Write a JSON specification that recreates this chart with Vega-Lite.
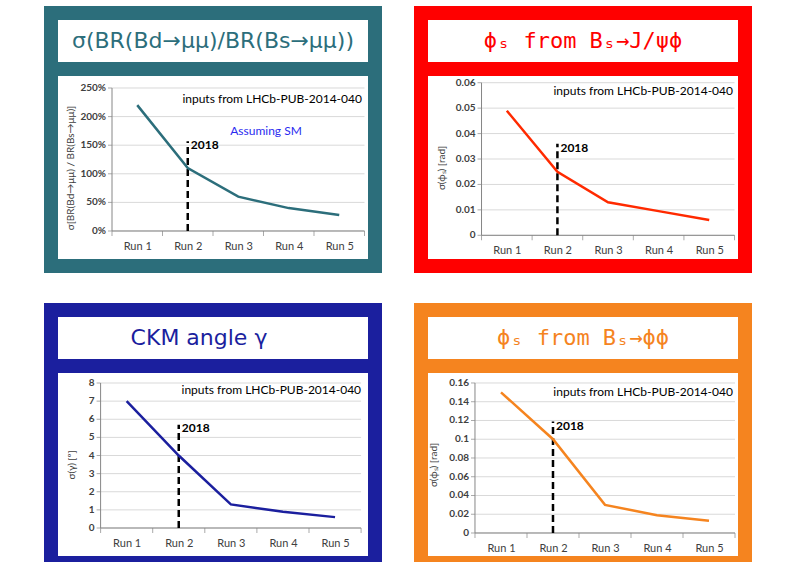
{
 "$schema": "https://vega.github.io/schema/vega-lite/v6.json",
 "background": "white",
 "padding": {"left": 44, "top": 6, "right": 0, "bottom": 0},
 "spacing": 30,
 "config": {
  "axis": {"labelFont": "Lato", "titleFont": "Lato", "labelColor": "#404040", "titleColor": "#404040", "titleFontWeight": "normal", "titleFontSize": 10, "labelOverlap": false},
  "text": {"font": "Lato"}
 },
 "vconcat": [
  {"hconcat": [
   {"spacing": 0, "bounds": "flush", "vconcat": [
    {"width": 324, "height": 56,
     "view": {"fill": "white", "stroke": "#2C6E7B", "strokeWidth": 14},
     "data": {"values": [{"t": "σ(BR(Bd→μμ)/BR(Bs→μμ))"}]},
     "mark": {"type": "text", "font": "DejaVu Sans", "fontSize": 22, "color": "#2C6E7B"},
     "encoding": {"text": {"field": "t"}}},
    {"width": 324, "height": 197,
     "view": {"fill": "white", "stroke": "#2C6E7B", "strokeWidth": 14},
     "layer": [
      {"data": {"values": [{"g": 0}, {"g": 0.5}, {"g": 1}, {"g": 1.5}, {"g": 2}, {"g": 2.5}]},
       "mark": {"type": "rule", "color": "#D9D9D9"},
       "encoding": {
        "y": {"field": "g", "type": "quantitative", "scale": {"domain": [-0.612, 2.832], "nice": false, "zero": false},
              "axis": {"title": "σ[BR(Bd→μμ) / BR(Bs→μμ)]", "offset": -61, "labels": false, "domain": false, "ticks": false, "grid": false, "titlePadding": 37}},
        "x": {"datum": 0.5, "type": "quantitative", "scale": {"domain": [-0.708, 5.708], "nice": false, "zero": false},
              "axis": {"title": null, "offset": -35, "values": [1, 2, 3, 4, 5], "labelExpr": "'Run ' + datum.value", "domain": false, "ticks": false, "grid": false, "labelPadding": 9, "labelFontSize": 11}},
        "x2": {"datum": 5.5}}},
      {"data": {"values": [{"g": 0}, {"g": 0.5}, {"g": 1}, {"g": 1.5}, {"g": 2}, {"g": 2.5}]},
       "mark": {"type": "text", "align": "right", "baseline": "middle", "dx": -6, "fontWeight": "bold", "fontSize": 10, "color": "#404040"},
       "encoding": {"y": {"field": "g", "type": "quantitative"}, "x": {"datum": 0.5, "type": "quantitative"}, "text": {"field": "g", "format": ".0%"}}},
      {"data": {"values": [{"g": 0}, {"g": 0.5}, {"g": 1}, {"g": 1.5}, {"g": 2}, {"g": 2.5}]},
       "mark": {"type": "tick", "orient": "horizontal", "size": 4, "thickness": 1, "color": "#868686", "xOffset": -2},
       "encoding": {"y": {"field": "g", "type": "quantitative"}, "x": {"datum": 0.5, "type": "quantitative"}}},
      {"data": {"values": [{}]}, "mark": {"type": "rule", "color": "#868686"},
       "encoding": {"x": {"datum": 0.5, "type": "quantitative"}, "x2": {"datum": 5.5}, "y": {"datum": 0, "type": "quantitative"}}},
      {"data": {"values": [{}]}, "mark": {"type": "rule", "color": "#868686"},
       "encoding": {"x": {"datum": 0.5, "type": "quantitative"}, "y": {"datum": 0, "type": "quantitative"}, "y2": {"datum": 2.5}}},
      {"data": {"values": [{"t": 0.5}, {"t": 1.5}, {"t": 2.5}, {"t": 3.5}, {"t": 4.5}, {"t": 5.5}]},
       "mark": {"type": "tick", "orient": "vertical", "size": 5, "thickness": 1, "color": "#868686", "yOffset": 2.5},
       "encoding": {"x": {"field": "t", "type": "quantitative"}, "y": {"datum": 0, "type": "quantitative"}}},
      {"data": {"values": [{}]}, "mark": {"type": "rule", "color": "black", "strokeWidth": 2.5, "strokeDash": [7, 4]},
       "encoding": {"x": {"datum": 2, "type": "quantitative"}, "y": {"datum": 0, "type": "quantitative"}, "y2": {"datum": 1.57}}},
      {"data": {"values": [{"run": 1, "v": 2.2}, {"run": 2, "v": 1.1}, {"run": 3, "v": 0.6}, {"run": 4, "v": 0.4}, {"run": 5, "v": 0.28}]},
       "mark": {"type": "line", "color": "#2C6E7B", "strokeWidth": 2.5},
       "encoding": {"x": {"field": "run", "type": "quantitative"}, "y": {"field": "v", "type": "quantitative"}}},
      {"data": {"values": [{}]}, "mark": {"type": "text", "text": "2018", "fontWeight": "bold", "fontSize": 12, "align": "left", "dx": 3, "color": "black"},
       "encoding": {"x": {"datum": 2, "type": "quantitative"}, "y": {"datum": 1.5, "type": "quantitative"}}},
      {"data": {"values": [{}]}, "mark": {"type": "text", "text": "inputs from LHCb-PUB-2014-040", "fontSize": 12, "align": "right", "color": "black"},
       "encoding": {"x": {"datum": 5.45, "type": "quantitative"}, "y": {"datum": 2.31, "type": "quantitative"}}},
      {"data": {"values": [{}]}, "mark": {"type": "text", "text": "Assuming SM", "fontSize": 12, "color": "#2B2BF0"},
       "encoding": {"x": {"datum": 3.55, "type": "quantitative"}, "y": {"datum": 1.75, "type": "quantitative"}}}
     ]}
   ]},
   {"spacing": 0, "bounds": "flush", "vconcat": [
    {"width": 324, "height": 56,
     "view": {"fill": "white", "stroke": "#FF0000", "strokeWidth": 14},
     "data": {"values": [{"t": "ϕₛ from Bₛ→J/ψϕ"}]},
     "mark": {"type": "text", "font": "DejaVu Sans Mono", "fontSize": 22, "color": "#FF0000"},
     "encoding": {"text": {"field": "t"}}},
    {"width": 324, "height": 197,
     "view": {"fill": "white", "stroke": "#FF0000", "strokeWidth": 14},
     "layer": [
      {"data": {"values": [{"g": 0}, {"g": 0.01}, {"g": 0.02}, {"g": 0.03}, {"g": 0.04}, {"g": 0.05}, {"g": 0.06}]},
       "mark": {"type": "rule", "color": "#D9D9D9"},
       "encoding": {
        "y": {"field": "g", "type": "quantitative", "scale": {"domain": [-0.01207, 0.06539], "nice": false, "zero": false},
              "axis": {"title": "σ(ϕₛ) [rad]", "offset": -60, "labels": false, "domain": false, "ticks": false, "grid": false, "titlePadding": 35}},
        "x": {"datum": 0.5, "type": "quantitative", "scale": {"domain": [-0.696, 5.707], "nice": false, "zero": false},
              "axis": {"title": null, "offset": -31, "values": [1, 2, 3, 4, 5], "labelExpr": "'Run ' + datum.value", "domain": false, "ticks": false, "grid": false, "labelPadding": 9, "labelFontSize": 11}},
        "x2": {"datum": 5.5}}},
      {"data": {"values": [{"g": 0}, {"g": 0.01}, {"g": 0.02}, {"g": 0.03}, {"g": 0.04}, {"g": 0.05}, {"g": 0.06}]},
       "mark": {"type": "text", "align": "right", "baseline": "middle", "dx": -6, "fontWeight": "bold", "fontSize": 10, "color": "#404040"},
       "encoding": {"y": {"field": "g", "type": "quantitative"}, "x": {"datum": 0.5, "type": "quantitative"}, "text": {"field": "g", "format": "~g"}}},
      {"data": {"values": [{"g": 0}, {"g": 0.01}, {"g": 0.02}, {"g": 0.03}, {"g": 0.04}, {"g": 0.05}, {"g": 0.06}]},
       "mark": {"type": "tick", "orient": "horizontal", "size": 4, "thickness": 1, "color": "#868686", "xOffset": -2},
       "encoding": {"y": {"field": "g", "type": "quantitative"}, "x": {"datum": 0.5, "type": "quantitative"}}},
      {"data": {"values": [{}]}, "mark": {"type": "rule", "color": "#868686"},
       "encoding": {"x": {"datum": 0.5, "type": "quantitative"}, "x2": {"datum": 5.5}, "y": {"datum": 0, "type": "quantitative"}}},
      {"data": {"values": [{}]}, "mark": {"type": "rule", "color": "#868686"},
       "encoding": {"x": {"datum": 0.5, "type": "quantitative"}, "y": {"datum": 0, "type": "quantitative"}, "y2": {"datum": 0.06}}},
      {"data": {"values": [{"t": 0.5}, {"t": 1.5}, {"t": 2.5}, {"t": 3.5}, {"t": 4.5}, {"t": 5.5}]},
       "mark": {"type": "tick", "orient": "vertical", "size": 5, "thickness": 1, "color": "#868686", "yOffset": 2.5},
       "encoding": {"x": {"field": "t", "type": "quantitative"}, "y": {"datum": 0, "type": "quantitative"}}},
      {"data": {"values": [{}]}, "mark": {"type": "rule", "color": "black", "strokeWidth": 2.5, "strokeDash": [7, 4]},
       "encoding": {"x": {"datum": 2, "type": "quantitative"}, "y": {"datum": 0, "type": "quantitative"}, "y2": {"datum": 0.036}}},
      {"data": {"values": [{"run": 1, "v": 0.049}, {"run": 2, "v": 0.025}, {"run": 3, "v": 0.013}, {"run": 4, "v": 0.0095}, {"run": 5, "v": 0.006}]},
       "mark": {"type": "line", "color": "#FF2A00", "strokeWidth": 2.5},
       "encoding": {"x": {"field": "run", "type": "quantitative"}, "y": {"field": "v", "type": "quantitative"}}},
      {"data": {"values": [{}]}, "mark": {"type": "text", "text": "2018", "fontWeight": "bold", "fontSize": 12, "align": "left", "dx": 3, "color": "black"},
       "encoding": {"x": {"datum": 2, "type": "quantitative"}, "y": {"datum": 0.0344, "type": "quantitative"}}},
      {"data": {"values": [{}]}, "mark": {"type": "text", "text": "inputs from LHCb-PUB-2014-040", "fontSize": 12, "align": "right", "color": "black"},
       "encoding": {"x": {"datum": 5.47, "type": "quantitative"}, "y": {"datum": 0.0567, "type": "quantitative"}}}
     ]}
   ]}
  ], "spacing": 32},
  {"hconcat": [
   {"spacing": 0, "bounds": "flush", "vconcat": [
    {"width": 324, "height": 56,
     "view": {"fill": "white", "stroke": "#1B1F9E", "strokeWidth": 14},
     "data": {"values": [{"t": "CKM angle γ"}]},
     "mark": {"type": "text", "font": "DejaVu Sans", "fontSize": 22, "color": "#1B1F9E", "dx": -14},
     "encoding": {"text": {"field": "t"}}},
    {"width": 324, "height": 197,
     "view": {"fill": "white", "stroke": "#1B1F9E", "strokeWidth": 14},
     "layer": [
      {"data": {"values": [{"g": 0}, {"g": 1}, {"g": 2}, {"g": 3}, {"g": 4}, {"g": 5}, {"g": 6}, {"g": 7}, {"g": 8}]},
       "mark": {"type": "rule", "color": "#D9D9D9"},
       "encoding": {
        "y": {"field": "g", "type": "quantitative", "scale": {"domain": [-1.931, 8.938], "nice": false, "zero": false},
              "axis": {"title": "σ(γ) [º]", "offset": -50, "labels": false, "domain": false, "ticks": false, "grid": false, "titlePadding": 25}},
        "x": {"datum": 0.5, "type": "quantitative", "scale": {"domain": [-0.452, 5.767], "nice": false, "zero": false},
              "axis": {"title": null, "offset": -35, "values": [1, 2, 3, 4, 5], "labelExpr": "'Run ' + datum.value", "domain": false, "ticks": false, "grid": false, "labelPadding": 9, "labelFontSize": 11}},
        "x2": {"datum": 5.5}}},
      {"data": {"values": [{"g": 0}, {"g": 1}, {"g": 2}, {"g": 3}, {"g": 4}, {"g": 5}, {"g": 6}, {"g": 7}, {"g": 8}]},
       "mark": {"type": "text", "align": "right", "baseline": "middle", "dx": -6, "fontWeight": "bold", "fontSize": 10, "color": "#404040"},
       "encoding": {"y": {"field": "g", "type": "quantitative"}, "x": {"datum": 0.5, "type": "quantitative"}, "text": {"field": "g", "format": "d"}}},
      {"data": {"values": [{"g": 0}, {"g": 1}, {"g": 2}, {"g": 3}, {"g": 4}, {"g": 5}, {"g": 6}, {"g": 7}, {"g": 8}]},
       "mark": {"type": "tick", "orient": "horizontal", "size": 4, "thickness": 1, "color": "#868686", "xOffset": -2},
       "encoding": {"y": {"field": "g", "type": "quantitative"}, "x": {"datum": 0.5, "type": "quantitative"}}},
      {"data": {"values": [{}]}, "mark": {"type": "rule", "color": "#868686"},
       "encoding": {"x": {"datum": 0.5, "type": "quantitative"}, "x2": {"datum": 5.5}, "y": {"datum": 0, "type": "quantitative"}}},
      {"data": {"values": [{}]}, "mark": {"type": "rule", "color": "#868686"},
       "encoding": {"x": {"datum": 0.5, "type": "quantitative"}, "y": {"datum": 0, "type": "quantitative"}, "y2": {"datum": 8}}},
      {"data": {"values": [{"t": 0.5}, {"t": 1.5}, {"t": 2.5}, {"t": 3.5}, {"t": 4.5}, {"t": 5.5}]},
       "mark": {"type": "tick", "orient": "vertical", "size": 5, "thickness": 1, "color": "#868686", "yOffset": 2.5},
       "encoding": {"x": {"field": "t", "type": "quantitative"}, "y": {"datum": 0, "type": "quantitative"}}},
      {"data": {"values": [{}]}, "mark": {"type": "rule", "color": "black", "strokeWidth": 2.5, "strokeDash": [7, 4]},
       "encoding": {"x": {"datum": 2, "type": "quantitative"}, "y": {"datum": 0, "type": "quantitative"}, "y2": {"datum": 5.7}}},
      {"data": {"values": [{"run": 1, "v": 7.0}, {"run": 2, "v": 4.0}, {"run": 3, "v": 1.3}, {"run": 4, "v": 0.9}, {"run": 5, "v": 0.6}]},
       "mark": {"type": "line", "color": "#1B1F9E", "strokeWidth": 2.5},
       "encoding": {"x": {"field": "run", "type": "quantitative"}, "y": {"field": "v", "type": "quantitative"}}},
      {"data": {"values": [{}]}, "mark": {"type": "text", "text": "2018", "fontWeight": "bold", "fontSize": 12, "align": "left", "dx": 3, "color": "black"},
       "encoding": {"x": {"datum": 2, "type": "quantitative"}, "y": {"datum": 5.53, "type": "quantitative"}}},
      {"data": {"values": [{}]}, "mark": {"type": "text", "text": "inputs from LHCb-PUB-2014-040", "fontSize": 12, "align": "right", "color": "black"},
       "encoding": {"x": {"datum": 5.5, "type": "quantitative"}, "y": {"datum": 7.61, "type": "quantitative"}}}
     ]}
   ]},
   {"spacing": 0, "bounds": "flush", "vconcat": [
    {"width": 324, "height": 56,
     "view": {"fill": "white", "stroke": "#F5841F", "strokeWidth": 14},
     "data": {"values": [{"t": "ϕₛ from Bₛ→ϕϕ"}]},
     "mark": {"type": "text", "font": "DejaVu Sans Mono", "fontSize": 22, "color": "#F5841F"},
     "encoding": {"text": {"field": "t"}}},
    {"width": 324, "height": 197,
     "view": {"fill": "white", "stroke": "#F5841F", "strokeWidth": 14},
     "layer": [
      {"data": {"values": [{"g": 0}, {"g": 0.02}, {"g": 0.04}, {"g": 0.06}, {"g": 0.08}, {"g": 0.1}, {"g": 0.12}, {"g": 0.14}, {"g": 0.16}]},
       "mark": {"type": "rule", "color": "#D9D9D9"},
       "encoding": {
        "y": {"field": "g", "type": "quantitative", "scale": {"domain": [-0.032, 0.1781], "nice": false, "zero": false},
              "axis": {"title": "σ(ϕₛ) [rad]", "offset": -54, "labels": false, "domain": false, "ticks": false, "grid": false, "titlePadding": 37}},
        "x": {"datum": 0.5, "type": "quantitative", "scale": {"domain": [-0.538, 5.692], "nice": false, "zero": false},
              "axis": {"title": null, "offset": -30, "values": [1, 2, 3, 4, 5], "labelExpr": "'Run ' + datum.value", "domain": false, "ticks": false, "grid": false, "labelPadding": 9, "labelFontSize": 11}},
        "x2": {"datum": 5.5}}},
      {"data": {"values": [{"g": 0}, {"g": 0.02}, {"g": 0.04}, {"g": 0.06}, {"g": 0.08}, {"g": 0.1}, {"g": 0.12}, {"g": 0.14}, {"g": 0.16}]},
       "mark": {"type": "text", "align": "right", "baseline": "middle", "dx": -6, "fontWeight": "bold", "fontSize": 10, "color": "#404040"},
       "encoding": {"y": {"field": "g", "type": "quantitative"}, "x": {"datum": 0.5, "type": "quantitative"}, "text": {"field": "g", "format": "~g"}}},
      {"data": {"values": [{"g": 0}, {"g": 0.02}, {"g": 0.04}, {"g": 0.06}, {"g": 0.08}, {"g": 0.1}, {"g": 0.12}, {"g": 0.14}, {"g": 0.16}]},
       "mark": {"type": "tick", "orient": "horizontal", "size": 4, "thickness": 1, "color": "#868686", "xOffset": -2},
       "encoding": {"y": {"field": "g", "type": "quantitative"}, "x": {"datum": 0.5, "type": "quantitative"}}},
      {"data": {"values": [{}]}, "mark": {"type": "rule", "color": "#868686"},
       "encoding": {"x": {"datum": 0.5, "type": "quantitative"}, "x2": {"datum": 5.5}, "y": {"datum": 0, "type": "quantitative"}}},
      {"data": {"values": [{}]}, "mark": {"type": "rule", "color": "#868686"},
       "encoding": {"x": {"datum": 0.5, "type": "quantitative"}, "y": {"datum": 0, "type": "quantitative"}, "y2": {"datum": 0.16}}},
      {"data": {"values": [{"t": 0.5}, {"t": 1.5}, {"t": 2.5}, {"t": 3.5}, {"t": 4.5}, {"t": 5.5}]},
       "mark": {"type": "tick", "orient": "vertical", "size": 5, "thickness": 1, "color": "#868686", "yOffset": 2.5},
       "encoding": {"x": {"field": "t", "type": "quantitative"}, "y": {"datum": 0, "type": "quantitative"}}},
      {"data": {"values": [{}]}, "mark": {"type": "rule", "color": "black", "strokeWidth": 2.5, "strokeDash": [7, 4]},
       "encoding": {"x": {"datum": 2, "type": "quantitative"}, "y": {"datum": 0, "type": "quantitative"}, "y2": {"datum": 0.119}}},
      {"data": {"values": [{"run": 1, "v": 0.15}, {"run": 2, "v": 0.1}, {"run": 3, "v": 0.03}, {"run": 4, "v": 0.019}, {"run": 5, "v": 0.013}]},
       "mark": {"type": "line", "color": "#F5841F", "strokeWidth": 2.5},
       "encoding": {"x": {"field": "run", "type": "quantitative"}, "y": {"field": "v", "type": "quantitative"}}},
      {"data": {"values": [{}]}, "mark": {"type": "text", "text": "2018", "fontWeight": "bold", "fontSize": 12, "align": "left", "dx": 3, "color": "black"},
       "encoding": {"x": {"datum": 2, "type": "quantitative"}, "y": {"datum": 0.114, "type": "quantitative"}}},
      {"data": {"values": [{}]}, "mark": {"type": "text", "text": "inputs from LHCb-PUB-2014-040", "fontSize": 12, "align": "right", "color": "black"},
       "encoding": {"x": {"datum": 5.46, "type": "quantitative"}, "y": {"datum": 0.15, "type": "quantitative"}}}
     ]}
   ]}
  ], "spacing": 32}
 ]
}
